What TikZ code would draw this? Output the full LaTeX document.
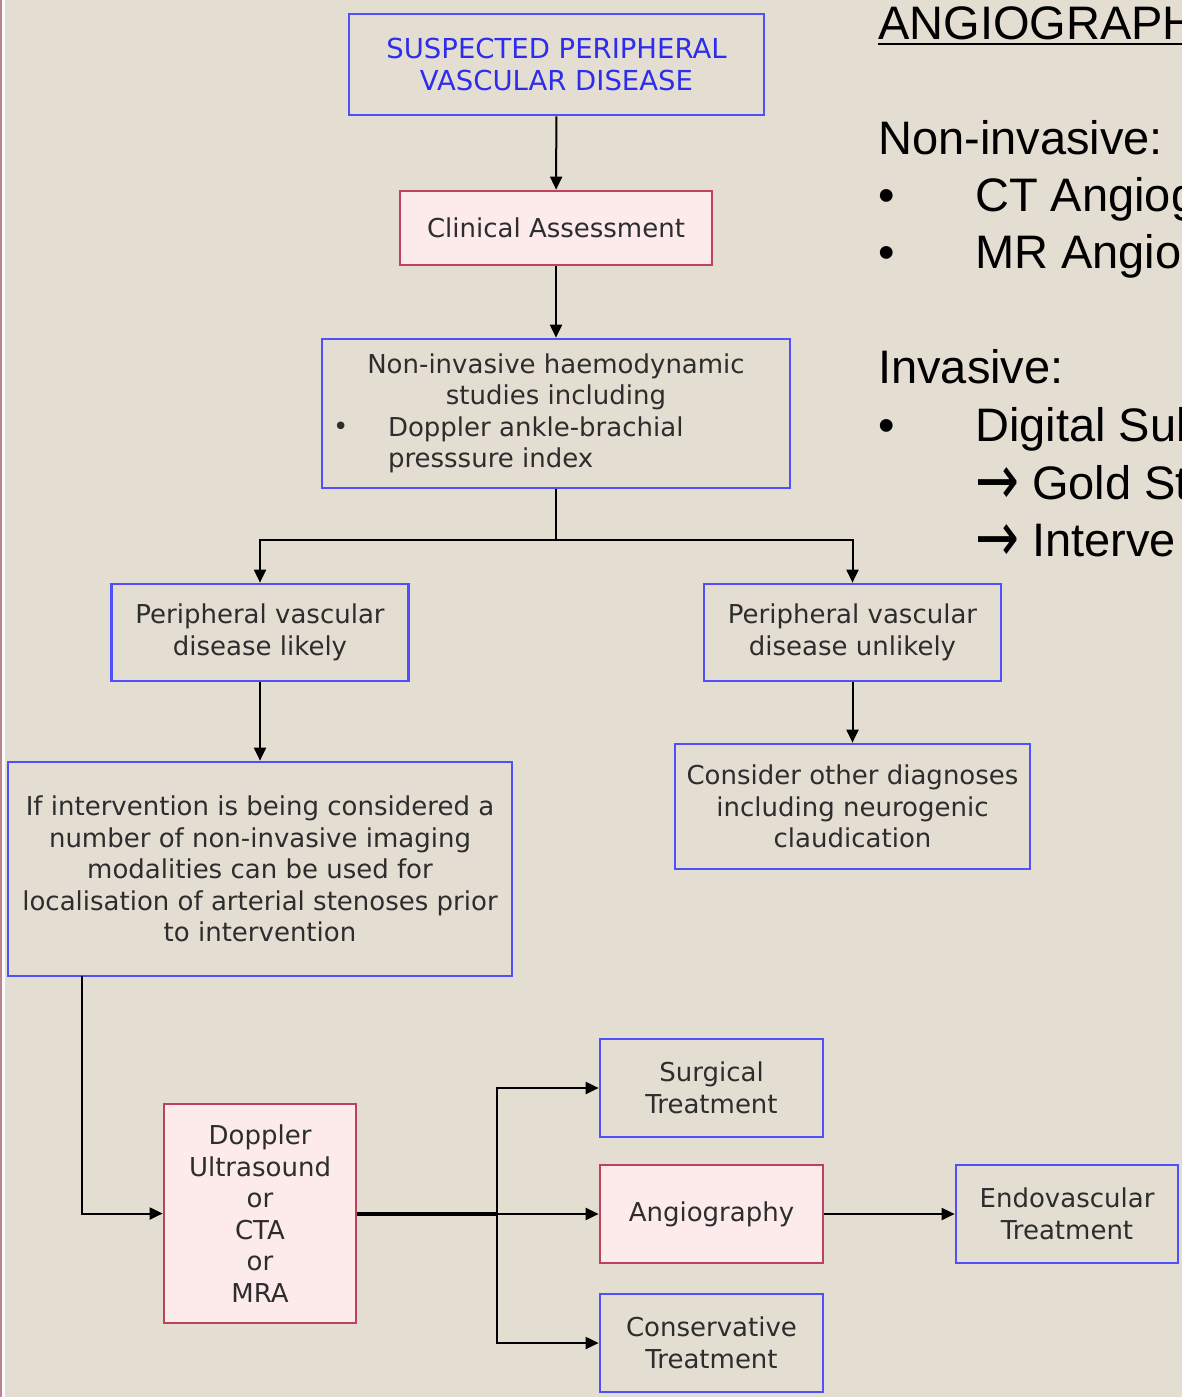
\documentclass[tikz,border=0pt]{standalone}
\usepackage{fontspec}
\setmainfont{DejaVu Sans}
\newfontfamily\arialf{Liberation Sans}
\newfontfamily\dejavuf{DejaVu Sans}
\usetikzlibrary{arrows.meta}
\definecolor{bg}{RGB}{228,222,210}
\definecolor{bluec}{RGB}{80,80,250}
\definecolor{bluet}{RGB}{45,45,235}
\definecolor{pinkc}{RGB}{190,65,95}
\definecolor{pinkf}{RGB}{253,234,234}
\definecolor{txt}{RGB}{45,45,45}
\definecolor{edgec}{RGB}{190,130,145}
\newcommand{\bigarrow}{\smash{\raisebox{-5.5pt}{\scalebox{0.75}[1]{\dejavuf\fontsize{70pt}{70pt}\selectfont →}}}}
\tikzset{
  x=1pt, y=-1pt,
  box/.style={line width=2.7pt, inner sep=0pt, align=center, text=txt,
    font=\fontsize{26pt}{31.5pt}\selectfont},
  bluebox/.style={box, draw=bluec, fill=bg},
  pinkbox/.style={box, draw=pinkc, fill=pinkf},
  wire/.style={draw=black, line width=2pt},
  conn/.style={wire, -{Triangle[length=13pt,width=12pt]}},
  side/.style={anchor=base west, inner sep=0pt, text=black,
    font=\arialf\fontsize{47pt}{57pt}\selectfont}
}
\begin{document}
\begin{tikzpicture}
\useasboundingbox (0,0) rectangle (1182,1397);
\clip (0,0) rectangle (1182,1397);
\fill[bg] (0,0) rectangle (1182,1397);
\fill[edgec] (0,0) rectangle (2,1397);
\fill[white!90!bg] (2,0) rectangle (5,1397);

% boxes
\node[bluebox, minimum width=415pt, minimum height=101pt, text=bluet,
  font=\fontsize{27.5pt}{31.5pt}\selectfont] (n1) at (556.5,64.5)
  {SUSPECTED PERIPHERAL\\VASCULAR DISEASE};
\node[pinkbox, minimum width=312pt, minimum height=74pt] (n2) at (556,228)
  {Clinical Assessment};
\node[bluebox, minimum width=468pt, minimum height=149pt] (n3) at (556,413.5)
  {\begin{minipage}{468pt}
   {\centering Non-invasive haemodynamic\\studies including\par}
   {\raggedright\leftskip=66pt\relax
    \noindent\llap{\makebox[55pt][l]{\raisebox{1pt}{•}}}Doppler ankle-brachial\\presssure index\par}
   \end{minipage}};
\node[bluebox, minimum width=297pt, minimum height=97pt] (n4) at (260,632.5)
  {Peripheral vascular\\disease likely};
\node[bluebox, minimum width=297pt, minimum height=97pt] (n5) at (852.5,632.5)
  {Peripheral vascular\\disease unlikely};
\node[bluebox, minimum width=355pt, minimum height=125pt] (n6) at (852.5,806.5)
  {Consider other diagnoses\\including neurogenic\\claudication};
\node[bluebox, minimum width=504pt, minimum height=214pt] (n7) at (260,869)
  {If intervention is being considered a\\number of non-invasive imaging\\modalities can be used for\\localisation of arterial stenoses prior\\to intervention};
\node[pinkbox, minimum width=192pt, minimum height=219pt] (n8) at (260,1213.5)
  {Doppler\\Ultrasound\\or\\CTA\\or\\MRA};
\node[bluebox, minimum width=223pt, minimum height=98pt] (n9) at (711.5,1088)
  {Surgical\\Treatment};
\node[pinkbox, minimum width=223pt, minimum height=98pt] (n10) at (711.5,1214)
  {Angiography};
\node[bluebox, minimum width=223pt, minimum height=98pt] (n11) at (711.5,1343)
  {Conservative\\Treatment};
\node[bluebox, minimum width=222pt, minimum height=98pt] (n12) at (1067,1214)
  {Endovascular\\Treatment};

% connectors
\coordinate (j1) at (556,540);
\coordinate (s7) at (82,976);
\coordinate (br) at (497,1214);
\draw[conn] (n1) -- (n2);
\draw[conn] (n2) -- (n3);
\draw[wire] (n3) -- (j1);
\draw[conn] (j1) -| (n4);
\draw[conn] (j1) -| (n5);
\draw[conn] (n4) -- (n7);
\draw[conn] (n5) -- (n6);
\draw[conn] (s7) |- (n8);
\draw[wire, line width=3.5pt] (n8.east |- br) -- (br);
\draw[conn, line width=2.5pt] (br) -- (n10);
\draw[conn] (br) |- (n9);
\draw[conn] (br) |- (n11);
\draw[conn] (n10) -- (n12);

% side text
\node[side] (t0) at (878,40) {ANGIOGRAPH};
\draw[line width=2.2pt] (878,44) -- (1182,44);
\node[side] (t1) at (878,154) {Non-invasive:};
\node[side] (b1) at (878,211) {•};
\node[side] (t2) at (975,211) {CT Angiog};
\node[side] (b2) at (878,268) {•};
\node[side] (t3) at (975,268) {MR Angio};
\node[side] (t4) at (878,383) {Invasive:};
\node[side] (b3) at (878,441) {•};
\node[side] (t5) at (975,441) {Digital Sub};
\node[side] (t6) at (975,499) {\bigarrow\ Gold St};
\node[side] (t7) at (975,556) {\bigarrow\ Interve};
\end{tikzpicture}
\end{document}
